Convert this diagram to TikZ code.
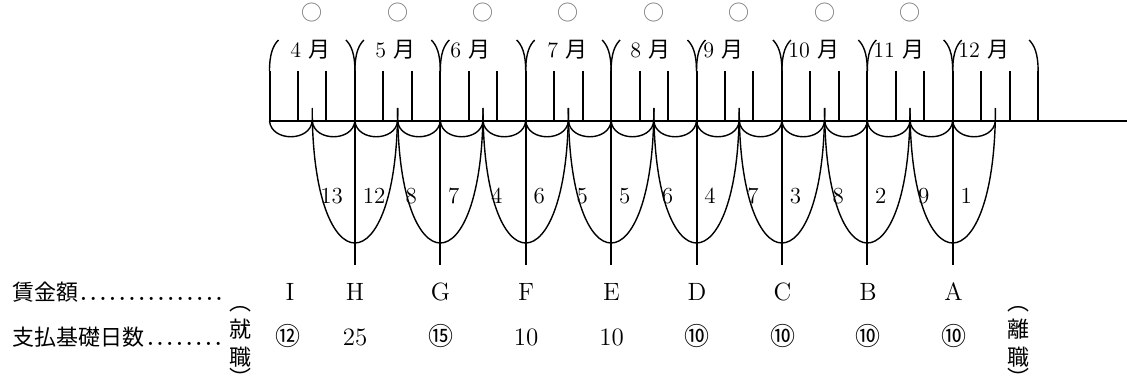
\documentclass[tikz,border=0pt]{standalone}
\usepackage{fontspec}
\newfontfamily\jp{Noto Sans CJK JP}
\usepackage{tikz}
\usetikzlibrary{positioning}

\begin{document}
\begin{tikzpicture}[x=0.5pt,y=-0.5pt]
	\useasboundingbox (0,0) rectangle (1127,390);

	\begin{scope}[line width=1pt]
		\draw[line width=1.4pt] (269.5,121) -- (1127,121);
		\foreach \i in {0,...,27}
			\draw ({269.5+28.467*\i},71) -- ({269.5+28.467*\i},121);
		\foreach \k in {1,...,8}
			\draw ({269.5+85.4*\k},71) -- ({269.5+85.4*\k},265);
	\end{scope}

	\begin{scope}[line width=0.7pt]
		\foreach \k in {0,...,8} {
			\pgfmathsetmacro\b{269.5+85.4*\k}
			\draw (\b,71) .. controls (\b,53) and ({\b+4},45) .. ({\b+9},40);
		}
		\foreach \k in {1,...,9} {
			\pgfmathsetmacro\b{269.5+85.4*\k}
			\draw (\b,71) .. controls (\b,53) and ({\b-4},45) .. ({\b-9},40);
		}
		\foreach \j in {0,...,16} {
			\pgfmathsetmacro\p{269.5+42.7*\j}
			\draw (\p,121) .. controls ({\p+2},142) and ({\p+40.7},142) .. ({\p+42.7},121);
		}
		\foreach \k in {1,...,8} {
			\pgfmathsetmacro\b{269.5+85.4*\k}
			\draw ({\b-42.7},108) .. controls ({\b-42.7},288) and ({\b+42.7},288) .. ({\b+42.7},108);
		}
	\end{scope}

	\begin{scope}[every node/.style={inner sep=0, font=\fontsize{11.5}{14}\selectfont}]
		\foreach \k/\l/\r in {1/13/12, 2/8/7, 3/4/6, 4/5/5, 5/6/4, 6/7/3, 7/8/2, 8/9/1} {
			\pgfmathsetmacro\b{269.5+85.4*\k}
			\node[anchor=west] (l\k) at ({\b-35},196) {\l};
			\node[anchor=west] (r\k) at ({\b+7.5},196) {\r};
		}
	\end{scope}

	\begin{scope}[every node/.style={inner sep=0, font=\fontsize{11}{13}\selectfont}]
		\foreach \m/\x in {4/290, 5/375, 6/450, 7/547, 8/630, 9/703, 10/788, 11/873, 12/958}
			\node[anchor=west] (m\m) at (\x,50) {\m\ {\jp 月}};
		\foreach \k in {0,...,7}
			\node[text=black!55, font=\fontsize{10.5}{12}\selectfont\jp] (o\k) at ({312.2+85.4*\k},13) {○};
	\end{scope}

	\begin{scope}[every node/.style={inner sep=0, font=\fontsize{12.5}{15}\selectfont}]
		\node[anchor=base west, font=\fontsize{11}{14}\selectfont] (wage) at (12,300)
			{{\jp 賃金額}\makebox[73pt]{\bfseries\dotfill}};
		\node[anchor=base west, font=\fontsize{11}{14}\selectfont] (days) at (12,345)
			{{\jp 支払基礎日数}\makebox[40pt]{\bfseries\dotfill}};
		\foreach \t/\x in {I/290, H/355, G/440.5, F/526, E/611.5, D/697, C/782.5, B/868, A/953.5}
			\node[anchor=base] (\t) at (\x,300) {\t};
		\foreach \t/\x [count=\n] in {\jp ⑫/288, 25/355, \jp ⑮/440.5, 10/526, 10/611.5,
				\jp ⑩/697, \jp ⑩/782.5, \jp ⑩/868, \jp ⑩/953.5}
			\node[anchor=base] (d\n) at (\x,345) {\t};
	\end{scope}

	\begin{scope}[every node/.style={inner sep=0, align=center, font=\fontsize{11}{14}\selectfont\jp}]
		\node (shu) at (240,343) {就\\職};
		\node[above=3pt of shu] (shuT) {︵};
		\node[below=0pt of shu] (shuB) {︶};
		\node (ri) at (1018,343) {離\\職};
		\node[above=3pt of ri] (riT) {︵};
		\node[below=0pt of ri] (riB) {︶};
	\end{scope}
\end{tikzpicture}
\end{document}
